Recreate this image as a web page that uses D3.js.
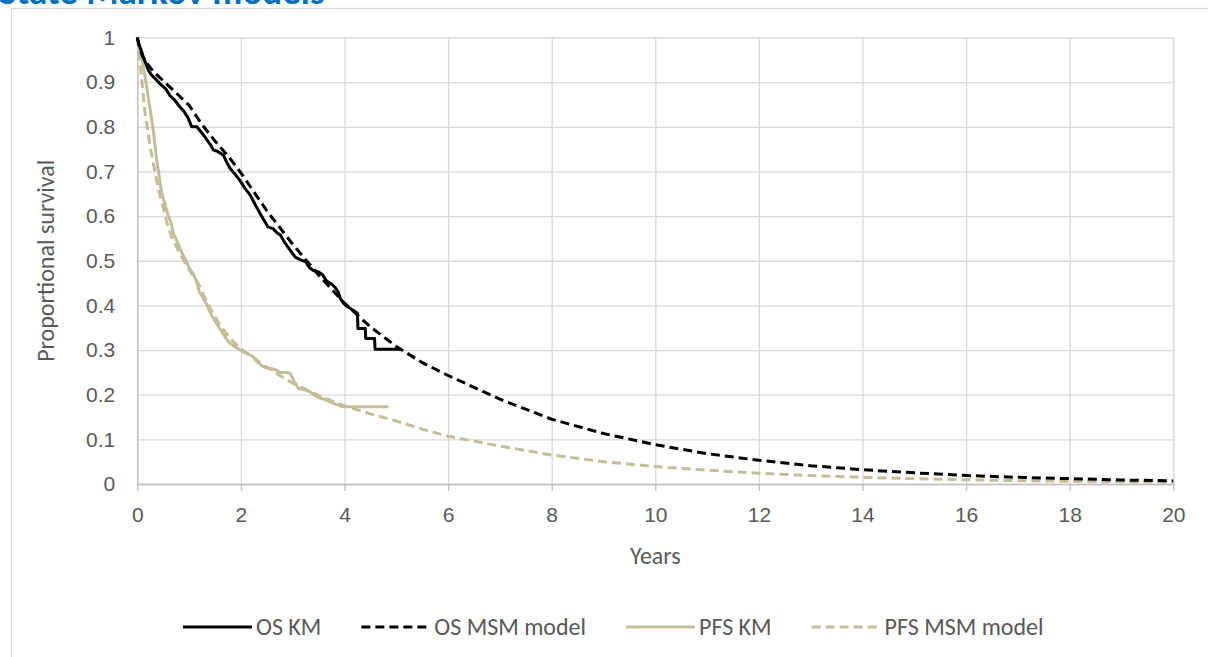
<!DOCTYPE html>
<html>
<head>
<meta charset="utf-8">
<script src="https://cdn.jsdelivr.net/npm/d3@7"></script>
<style>
  html, body { margin: 0; padding: 0; background: #ffffff; }
  svg { display: block; font-family: Carlito, Calibri, Lato, "Open Sans", sans-serif; }
</style>
</head>
<body>
<svg id="chart" width="1208" height="657"></svg>
<script>
// Overall survival, Kaplan-Meier estimate [years, proportion]
const osKm = [
  [0,1],[0.03,0.985],[0.08,0.97],[0.12,0.955],[0.17,0.94],[0.22,0.925],[0.28,0.915],
  [0.37,0.905],[0.45,0.895],[0.55,0.885],[0.63,0.87],[0.72,0.86],[0.82,0.845],[0.9,0.835],
  [0.98,0.82],[1.05,0.80],[1.15,0.80],[1.22,0.79],[1.3,0.778],[1.4,0.762],[1.47,0.748],
  [1.55,0.745],[1.66,0.737],[1.72,0.722],[1.79,0.707],[1.88,0.695],[1.98,0.68],[2.08,0.662],
  [2.18,0.647],[2.28,0.625],[2.37,0.606],[2.45,0.59],[2.52,0.576],[2.62,0.572],[2.7,0.562],
  [2.76,0.558],[2.85,0.54],[2.95,0.524],[3.05,0.508],[3.15,0.502],[3.25,0.498],[3.32,0.485],
  [3.4,0.478],[3.5,0.475],[3.58,0.468],[3.65,0.455],[3.75,0.448],[3.82,0.44],[3.88,0.43],
  [3.92,0.415],[3.98,0.405],[4.05,0.398],[4.15,0.39],[4.22,0.385],[4.25,0.382],[4.26,0.348],
  [4.4,0.348],[4.41,0.326],[4.58,0.326],[4.59,0.302],[5.1,0.302]
];

// Overall survival, multi-state Markov model prediction
const osMsmYears = [0,0.05,0.1,0.2,0.3,0.5,0.75,1,1.25,1.5,1.75,2,2.5,3,3.5,4,4.5,5,5.5,6,7,8,9,10,11,12,13,14,15,16,17,18,19,20];
const osMsmSurv  = [1,0.975,0.958,0.94,0.925,0.903,0.876,0.848,0.805,0.768,0.735,0.697,0.612,0.537,0.468,0.405,0.352,0.308,0.272,0.243,0.19,0.145,0.113,0.088,0.068,0.053,0.041,0.032,0.025,0.019,0.015,0.012,0.009,0.007];

// Progression-free survival, Kaplan-Meier estimate [years, proportion]
const pfsKm = [
  [0,1],[0.03,0.985],[0.07,0.965],[0.12,0.934],[0.16,0.905],[0.21,0.867],[0.26,0.83],[0.31,0.79],
  [0.35,0.75],[0.38,0.72],[0.41,0.70],[0.45,0.665],[0.5,0.64],[0.55,0.62],[0.6,0.6],[0.65,0.585],
  [0.7,0.56],[0.78,0.54],[0.85,0.52],[0.92,0.505],[1.0,0.485],[1.08,0.47],[1.15,0.452],[1.2,0.43],
  [1.28,0.415],[1.35,0.40],[1.42,0.38],[1.5,0.365],[1.58,0.35],[1.65,0.338],[1.72,0.325],
  [1.79,0.315],[1.88,0.308],[1.98,0.30],[2.05,0.296],[2.15,0.29],[2.24,0.285],[2.3,0.275],
  [2.43,0.263],[2.5,0.26],[2.6,0.258],[2.69,0.255],[2.75,0.25],[2.85,0.25],[2.95,0.248],
  [3.02,0.232],[3.11,0.214],[3.2,0.212],[3.33,0.207],[3.4,0.2],[3.53,0.192],[3.62,0.19],
  [3.72,0.184],[3.85,0.178],[3.98,0.173],[4.85,0.173]
];

// Progression-free survival, multi-state Markov model prediction
const pfsMsmYears = [0,0.04,0.08,0.15,0.25,0.34,0.41,0.5,0.57,0.66,0.82,1.0,1.15,1.4,1.6,1.8,2.0,2.25,2.5,2.75,3.0,3.5,4.0,4.5,5,5.5,6,7,8,9,10,11,12,13,14,15,16,17,18,19,20];
const pfsMsmSurv  = [1,0.96,0.912,0.83,0.755,0.70,0.658,0.62,0.586,0.554,0.516,0.48,0.455,0.395,0.355,0.325,0.303,0.282,0.262,0.243,0.226,0.198,0.175,0.157,0.141,0.123,0.107,0.085,0.065,0.05,0.039,0.031,0.024,0.019,0.015,0.012,0.0095,0.0075,0.006,0.0048,0.004];

// Axis ticks
const xTicks = [0,2,4,6,8,10,12,14,16,18,20];
const yTicks = [0,0.1,0.2,0.3,0.4,0.5,0.6,0.7,0.8,0.9,1];

const seriesNames = ["OS KM", "OS MSM model", "PFS KM", "PFS MSM model"];

const BLACK = "#000000";
const TAN = "#C4BD97";
const TEXT = "#595959";
const GRID = "#d9d9d9";
const AXIS = "#bfbfbf";

const svg = d3.select("#chart");

// outer chart frame (runs off the right and bottom edges)
svg.append("rect")
  .attr("x", 11.5).attr("y", 8.5)
  .attr("width", 1300).attr("height", 700)
  .attr("fill", "#ffffff").attr("stroke", GRID).attr("stroke-width", 1.3);

// heading, clipped by the top of the page
svg.append("text")
  .attr("x", -1).attr("y", 3.5)
  .attr("fill", "#0070C0")
  .attr("font-weight", "bold")
  .attr("font-size", 37)
  .text("State Markov models");

const plot = { left: 137.3, right: 1173.3, top: 37.5, bottom: 484 };

const x = d3.scaleLinear().domain([0, 20]).range([plot.left, plot.right]);
const y = d3.scaleLinear().domain([0, 1]).range([plot.bottom, plot.top]);

// gridlines
const g = svg.append("g");
g.append("g")
  .attr("transform", `translate(0,${plot.bottom})`)
  .call(d3.axisBottom(x).tickValues(xTicks).tickSize(-(plot.bottom - plot.top)).tickFormat(""))
  .call(a => a.select(".domain").remove())
  .call(a => a.selectAll("line").attr("stroke", GRID).attr("stroke-width", 1.3));
g.append("g")
  .attr("transform", `translate(${plot.left},0)`)
  .call(d3.axisLeft(y).tickValues(yTicks).tickSize(-(plot.right - plot.left)).tickFormat(""))
  .call(a => a.select(".domain").remove())
  .call(a => a.selectAll("line").attr("stroke", GRID).attr("stroke-width", 1.3));

// x axis
const xAxis = svg.append("g")
  .attr("transform", `translate(0,${plot.bottom})`)
  .call(d3.axisBottom(x).tickValues(xTicks).tickSize(7).tickSizeOuter(0).tickPadding(16).tickFormat(d3.format("d")));
xAxis.select(".domain").attr("stroke", AXIS).attr("stroke-width", 1.3);
xAxis.selectAll(".tick line").attr("stroke", AXIS).attr("stroke-width", 1.3);
xAxis.selectAll("text").attr("fill", TEXT).attr("font-size", 21).attr("font-family", null);

// y axis
const yAxis = svg.append("g")
  .attr("transform", `translate(${plot.left},0)`)
  .call(d3.axisLeft(y).tickValues(yTicks).tickSize(0).tickPadding(22)
    .tickFormat(d => d === 0 ? "0" : d === 1 ? "1" : d3.format(".1f")(d)));
yAxis.select(".domain").attr("stroke", AXIS).attr("stroke-width", 1.3);
yAxis.selectAll("text").attr("fill", TEXT).attr("font-size", 21).attr("font-family", null);

// axis titles
svg.append("text")
  .attr("x", (plot.left + plot.right) / 2).attr("y", 564)
  .attr("text-anchor", "middle").attr("fill", TEXT).attr("font-size", 24)
  .text("Years");
svg.append("text")
  .attr("transform", `translate(54,${(plot.top + plot.bottom) / 2}) rotate(-90)`)
  .attr("text-anchor", "middle").attr("fill", TEXT).attr("font-size", 24)
  .text("Proportional survival");

// curves
const line = d3.line().x(d => x(d[0])).y(d => y(d[1]));
const zipped = (ts, ss) => ts.map((t, i) => [t, ss[i]]);

const series = [
  { name: seriesNames[0], data: osKm, color: BLACK, dash: null },
  { name: seriesNames[1], data: zipped(osMsmYears, osMsmSurv), color: BLACK, dash: "9,5" },
  { name: seriesNames[2], data: pfsKm, color: TAN, dash: null },
  { name: seriesNames[3], data: zipped(pfsMsmYears, pfsMsmSurv), color: TAN, dash: "9,5" }
];

// draw order: model curves underneath, KM on top within each outcome
const drawOrder = [3, 2, 1, 0];
svg.append("g").selectAll("path")
  .data(drawOrder.map(i => series[i]))
  .join("path")
  .attr("d", d => line(d.data))
  .attr("fill", "none")
  .attr("stroke", d => d.color)
  .attr("stroke-width", 3)
  .attr("stroke-dasharray", d => d.dash)
  .attr("stroke-linejoin", "round");

// legend: entries laid out left to right from their measured text widths
const legend = svg.append("g");
let lx = 183;
series.forEach(s => {
  const item = legend.append("g").attr("transform", `translate(${lx},627)`);
  item.append("line")
    .attr("x1", 0).attr("x2", 69).attr("y1", 0).attr("y2", 0)
    .attr("stroke", s.color).attr("stroke-width", 3)
    .attr("stroke-dasharray", s.dash);
  const t = item.append("text")
    .attr("x", 73).attr("y", 0).attr("dy", "0.35em")
    .attr("fill", TEXT).attr("font-size", 24)
    .text(s.name);
  lx += 73 + t.node().getComputedTextLength() + 40;
});
</script>
</body>
</html>
